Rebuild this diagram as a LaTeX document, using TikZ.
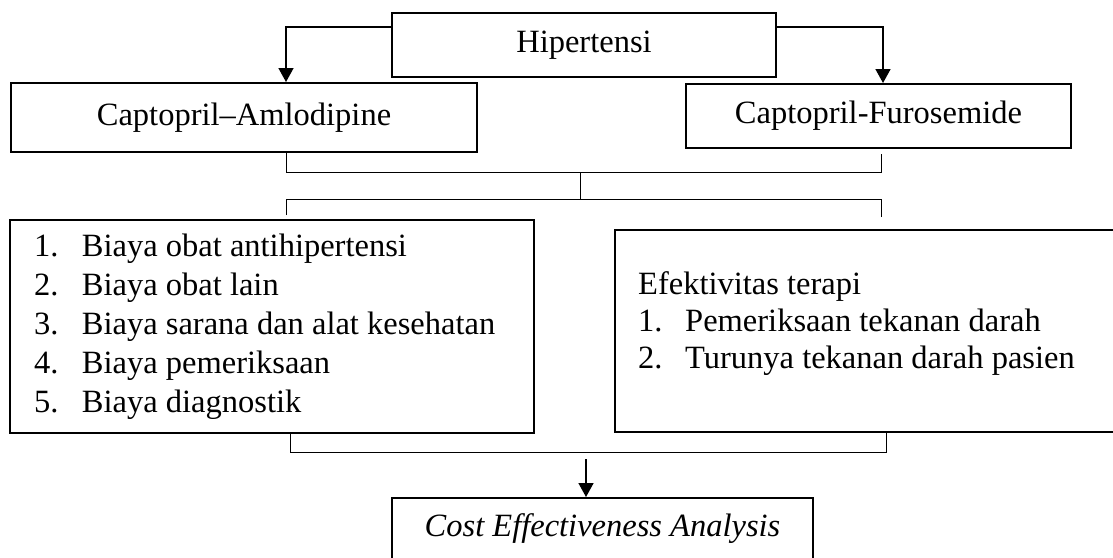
\documentclass[tikz,border=0pt]{standalone}
\usepackage{fontspec}
\setmainfont{Liberation Serif}
\usepackage{tikz}
\usetikzlibrary{arrows.meta, positioning, calc}
\tikzstyle{box} = [rectangle, draw=black, line width=2pt, inner sep=0pt, text centered]
\tikzstyle{listbox} = [rectangle, draw=black, line width=2pt, inner xsep=24pt, inner ysep=0pt, align=flush left]
\tikzstyle{joint} = [line width=1pt]
\tikzstyle{arrow} = [line width=1.6pt, -{Triangle[width=15pt,length=14pt]}]

\begin{document}
\begin{tikzpicture}[x=1pt, y=-1pt, font=\fontsize{32.5}{39}\selectfont]
    \useasboundingbox (0,0) rectangle (1113,557);

    \node (hiper) [box, minimum width=384pt, minimum height=64pt] at (584,45) {Hipertensi};
    \node (capaml) [box, minimum width=466pt, minimum height=69pt] at (244,117.5) {Captopril--Amlodipine};
    \node (capfur) [box, minimum width=385pt, minimum height=64pt] at (878.5,116) {Captopril-Furosemide};

    \node (biaya) [listbox, text width=476pt, minimum height=213pt] at (272,326.5)
        {\makebox[48pt][l]{1.}Biaya obat antihipertensi\\
         \makebox[48pt][l]{2.}Biaya obat lain\\
         \makebox[48pt][l]{3.}Biaya sarana dan alat kesehatan\\
         \makebox[48pt][l]{4.}Biaya pemeriksaan\\
         \makebox[48pt][l]{5.}Biaya diagnostik};
    \node (efek) [box, minimum width=503pt, minimum height=202pt] at (866.5,331) {};
    \node (efektxt) [anchor=west, inner sep=0pt, align=flush left, font=\fontsize{32.5}{37}\selectfont] at (638,323.5)
        {Efektivitas terapi\\
         \makebox[47pt][l]{1.}Pemeriksaan tekanan darah\\
         \makebox[47pt][l]{2.}Turunya tekanan darah pasien};

    \node (cea) [box, minimum width=421pt, minimum height=70pt, text height=22pt, text depth=16pt, anchor=north] at (602.5,497)
        {\textit{Cost Effectiveness Analysis}};

    \coordinate (topjoin) at (580,172);
    \coordinate (midjoin) at (580,199);
    \coordinate (botjoin) at (586,452);

    \draw [arrow] ([yshift=18pt]hiper.west) -| ([xshift=42pt]capaml.north);
    \draw [arrow] ([yshift=18pt]hiper.east) -| ([xshift=4.5pt]capfur.north);

    \draw [joint] ([xshift=42pt]capaml.south) |- (topjoin);
    \draw [joint] ([xshift=2.5pt,yshift=-5pt]capfur.south) |- (topjoin);
    \draw [joint] (topjoin) -- (midjoin);
    \draw [joint] ([xshift=14pt,yshift=4pt]biaya.north) |- (midjoin);
    \draw [joint] ([xshift=14.5pt,yshift=12pt]efek.north) |- (midjoin);

    \draw [joint] ([xshift=18pt]biaya.south) |- (botjoin);
    \draw [joint] ([xshift=19.5pt]efek.south) |- (botjoin);
    \draw [arrow] ([yshift=-7pt]botjoin) -- (botjoin |- cea.north);
\end{tikzpicture}
\end{document}
